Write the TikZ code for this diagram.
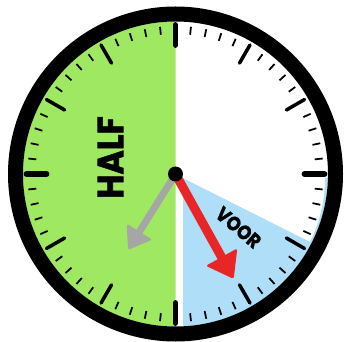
\documentclass[tikz,border=0pt]{standalone}
\usepackage{fontspec}
\setmainfont{Poppins}[BoldFeatures={FakeBold=1.5}]
\definecolor{facegreen}{RGB}{158,232,98}
\definecolor{faceblue}{RGB}{174,222,248}
\definecolor{handred}{RGB}{232,38,40}
\definecolor{handgrey}{RGB}{166,166,166}

\begin{document}
\begin{tikzpicture}[x=0.03cm,y=0.03cm]
  \useasboundingbox(-175.5,-167)rectangle(169.5,174);
  \fill[white](-175.5,-167)rectangle(169.5,174);
  \coordinate(hub)at(0,0);
  \fill[facegreen](0,152.5)arc(90:270:152.5)--cycle;
  \begin{scope}
    \clip(hub)circle(152.5);
    \fill[faceblue](7.5,-4)rectangle(160,-160);
    \fill[white](7.5,-4)--++(-26.7:142)arc(-26.7:0:142)--cycle;
  \end{scope}
  \foreach \a in {0,6,...,354}
    \draw[line width=1.5pt](\a:140)--(\a:148);
  \foreach \a in {30,60,120,150,210,240,300,330}
    \draw[line width=3pt,line cap=round](\a:128)--(\a:149);
  \foreach \a in {0,90,180,270}
    \draw[line width=5pt,line cap=round](\a:129)--(\a:149);
  \draw[line width=0.45cm](hub)circle(160);
  \node[rotate=90,xscale=0.91,font=\bfseries\fontsize{31}{31}\selectfont](half)at(-65,16.5){HALF};
  \node[rotate=-40,xscale=0.88,font=\bfseries\fontsize{17}{17}\selectfont](voor)at(63,-53.5){VOOR};
  \draw[handgrey,line width=0.21cm](hub)--(238:72);
  \fill[handgrey,rounded corners=2pt,rotate=238](89.6,0)--(68,15)--(68,-15)--cycle;
  \draw[handred,line width=0.27cm](hub)--(-61:100);
  \fill[handred,rounded corners=2pt,rotate=-61](120,0)--(95,18)--(95,-18)--cycle;
  \fill(hub)circle(7.5);
\end{tikzpicture}
\end{document}
